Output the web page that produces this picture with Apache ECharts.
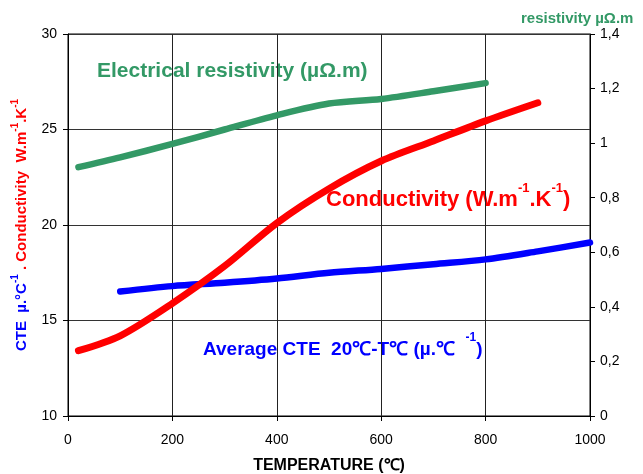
<!DOCTYPE html>
<html>
<head>
<meta charset="utf-8">
<script src="https://cdn.jsdelivr.net/npm/echarts@6/dist/echarts.min.js"></script>
<style>
html,body{margin:0;padding:0;background:#fff;}
#c{width:643px;height:474px;}
</style>
</head>
<body>
<div id="c"></div>
<script>
// ---- data ----
var resTemps = [20, 100, 200, 300, 400, 500, 600, 700, 800];
var resValues = [0.912, 0.948, 0.997, 1.05, 1.102, 1.145, 1.162, 1.19, 1.22];

var condTemps = [20, 100, 200, 300, 400, 500, 600, 700, 800, 900];
var condValues = [13.42, 14.2, 15.9, 17.85, 20.1, 21.9, 23.35, 24.4, 25.45, 26.4];

var cteTemps = [100, 200, 300, 400, 500, 600, 700, 800, 900, 1000];
var cteValues = [16.52, 16.8, 16.98, 17.2, 17.5, 17.7, 17.95, 18.2, 18.62, 19.08];

var xTicks = [0, 200, 400, 600, 800, 1000];
var leftTicks = [10, 15, 20, 25, 30];
var rightTicks = [0, 0.2, 0.4, 0.6, 0.8, 1.0, 1.2, 1.4];

function pairs(xs, ys) { return xs.map(function (x, i) { return [x, ys[i]]; }); }

var FONT = '"Liberation Sans", Arial, sans-serif';
var GREEN = '#339966', RED = '#ff0000', BLUE = '#0000ff';

var chart = echarts.init(document.getElementById('c'), null, {renderer: 'canvas'});

var axisLabelStyle = {color: '#000', fontSize: 14, fontFamily: FONT};

var option = {
  animation: false,
  backgroundColor: '#fff',
  grid: {left: 68, right: 53, top: 34, bottom: 58, outerBoundsMode: 'none', containLabel: false,
         show: true, borderColor: '#000', borderWidth: 1, backgroundColor: 'transparent'},
  xAxis: {
    type: 'value', min: xTicks[0], max: xTicks[xTicks.length - 1], interval: 200,
    axisLine: {show: true, lineStyle: {color: '#000', width: 1}},
    axisTick: {show: true, inside: false, length: 5, lineStyle: {color: '#000'}},
    splitLine: {show: true, lineStyle: {color: '#222', width: 1}},
    axisLabel: Object.assign({margin: 17, formatter: function (v) { return String(v); }}, axisLabelStyle),
    name: 'TEMPERATURE (℃)', nameLocation: 'middle', nameGap: 42,
    nameTextStyle: {color: '#000', fontSize: 16, fontWeight: 'bold', fontFamily: FONT}
  },
  yAxis: [
    {
      type: 'value', min: leftTicks[0], max: leftTicks[leftTicks.length - 1], interval: 5,
      axisLine: {show: true, lineStyle: {color: '#000', width: 1}},
      axisTick: {show: true, inside: false, length: 5, lineStyle: {color: '#000'}},
      splitLine: {show: true, lineStyle: {color: '#333', width: 1}},
      axisLabel: Object.assign({margin: 11}, axisLabelStyle),
      name: '{b|CTE  µ.°C}{bs|-1}{r| . Conductivity  W.m}{rs|-1}{r|.K}{rs|-1}',
      nameLocation: 'middle', nameGap: 39, nameRotate: 90,
      nameTextStyle: {
        rich: {
          b: {color: BLUE, fontWeight: 'bold', fontSize: 15, fontFamily: FONT, lineHeight: 19, verticalAlign: 'bottom'},
          bs: {color: BLUE, fontWeight: 'bold', fontSize: 10, fontFamily: FONT, lineHeight: 10, verticalAlign: 'top'},
          r: {color: RED, fontWeight: 'bold', fontSize: 15, fontFamily: FONT, lineHeight: 19, verticalAlign: 'bottom'},
          rs: {color: RED, fontWeight: 'bold', fontSize: 10, fontFamily: FONT, lineHeight: 10, verticalAlign: 'top'}
        }
      }
    },
    {
      type: 'value', position: 'right', min: rightTicks[0], max: rightTicks[rightTicks.length - 1], interval: 0.2,
      axisLine: {show: true, lineStyle: {color: '#000', width: 1}},
      axisTick: {show: true, inside: false, length: 5, lineStyle: {color: '#000'}},
      splitLine: {show: false},
      axisLabel: Object.assign({
        margin: 10,
        formatter: function (v) {
          var s = (Math.round(v * 10) / 10).toString();
          return s.replace('.', ',');
        }
      }, axisLabelStyle)
    }
  ],
  graphic: [
    {
      type: 'text', left: 521, top: 11,
      style: {text: 'resistivity µΩ.m', fill: GREEN, font: 'bold 15px ' + FONT}
    },
    {
      type: 'text', left: 97, top: 61,
      style: {text: 'Electrical resistivity (µΩ.m)', fill: GREEN, font: 'bold 21px ' + FONT}
    },
    {
      type: 'text', left: 326, top: 182,
      style: {
        text: '{a|Conductivity (W.m}{s|-1}{a|.K}{s|-1}{a|)}',
        rich: {
          a: {fill: RED, fontWeight: 'bold', fontSize: 22, fontFamily: FONT, lineHeight: 29, verticalAlign: 'bottom'},
          s: {fill: RED, fontWeight: 'bold', fontSize: 13, fontFamily: FONT, lineHeight: 14, verticalAlign: 'top'}
        }
      }
    },
    {
      type: 'text', left: 203, top: 332,
      style: {
        text: '{a|Average CTE  20℃-T℃ (µ.℃  }{s|-1}{a|)}',
        rich: {
          a: {fill: BLUE, fontWeight: 'bold', fontSize: 19, fontFamily: FONT, lineHeight: 27, verticalAlign: 'bottom'},
          s: {fill: BLUE, fontWeight: 'bold', fontSize: 12, fontFamily: FONT, lineHeight: 13, verticalAlign: 'top'}
        }
      }
    }
  ],
  series: [
    {
      type: 'line', yAxisIndex: 1, data: pairs(resTemps, resValues), smooth: 0.3, showSymbol: false,
      lineStyle: {color: GREEN, width: 6.5, cap: 'round', join: 'round'}, z: 3
    },
    {
      type: 'line', yAxisIndex: 0, data: pairs(cteTemps, cteValues), smooth: 0.3, showSymbol: false,
      lineStyle: {color: BLUE, width: 6.5, cap: 'round', join: 'round'}, z: 4
    },
    {
      type: 'line', yAxisIndex: 0, data: pairs(condTemps, condValues), smooth: 0.3, showSymbol: false,
      lineStyle: {color: RED, width: 7, cap: 'round', join: 'round'}, z: 5
    }
  ]
};
chart.setOption(option);
</script>
</body>
</html>
